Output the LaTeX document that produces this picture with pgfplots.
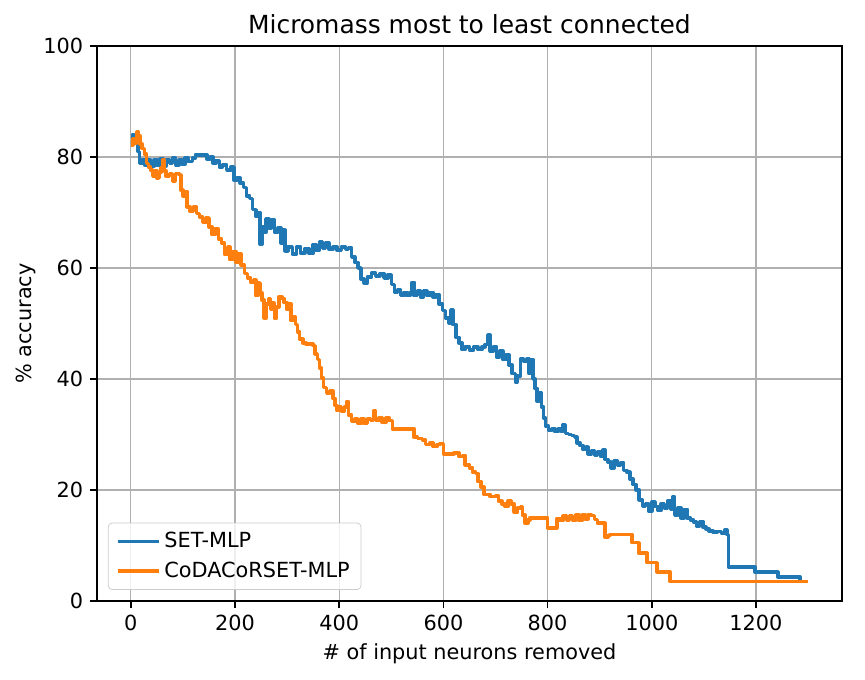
\documentclass[border=0pt]{standalone}
\usepackage{pgfplots}
\pgfplotsset{compat=1.18}
\usepackage{fontspec}
\setmainfont{DejaVu Sans}
\definecolor{tabblue}{HTML}{1F77B4}
\definecolor{taborange}{HTML}{FF7F0E}
\definecolor{gridgray}{HTML}{B0B0B0}
\definecolor{legedge}{HTML}{CCCCCC}
\begin{document}
\begin{tikzpicture}
\useasboundingbox (-51.7pt,-42.1pt) rectangle (409.6pt,320.5pt);
\begin{axis}[
  at={(0,0)}, anchor=south west,
  scale only axis, width=397.3pt, height=296pt,
  xmin=-65, xmax=1365, ymin=0, ymax=100,
  xtick={0,200,400,600,800,1000,1200},
  ytick={0,20,40,60,80,100},
  grid=major,
  major grid style={gridgray, line width=0.6pt},
  axis line style={black, line width=0.8pt},
  tick style={black, line width=0.8pt},
  tick align=outside, tick pos=left,
  major tick length=3.8pt,
  /pgf/number format/assume math mode=true,
  /pgf/number format/1000 sep={},
  ticklabel style={font=\fontsize{11.1}{13}\selectfont},
  title={Micromass most to least connected},
  title style={font=\fontsize{13.3}{15}\selectfont, yshift=-3pt},
  xlabel={\# of input neurons removed},
  ylabel={\% accuracy},
  label style={font=\fontsize{11.1}{13}\selectfont},
  ylabel style={yshift=-3pt},
  legend style={at={(0.0148,0.0199)}, anchor=south west, draw=legedge, rounded corners=2pt,
    fill=white, fill opacity=0.8, text opacity=1, font=\fontsize{11.1}{13}\selectfont,
    inner xsep=4pt, inner ysep=3pt, row sep=2pt},
  legend cell align=left,
  legend image code/.code={\draw[#1, line width=1.9pt] (0pt,0pt) -- (22pt,0pt);},
]
\addplot[tabblue, line width=1.9pt, line join=round, const plot] coordinates {
(0,83.5) (3,84) (6,82.5) (10,83) (14,81) (17,78.8) (22,79.5) (27,78.5) (32,79.5) (38,78.3) (44,79.5) (50,78.5) (56,79.6) (62,78.4) (68,79.5) (74,78.8) (80,79.8) (86,78.6) (92,79.5) (98,78.7) (104,79.8) (110,79.2) (118,79.8) (124,80.4) (140,80.4) (146,79.6) (152,80) (158,78.9) (164,79.4) (170,78.2) (176,78.6) (184,77.6) (192,78.2) (198,75.8) (204,76.2) (210,75.3) (216,74.5) (222,73) (228,72.5) (234,70.5) (240,69.3) (244,70) (248,64.3) (252,67.5) (256,66.5) (260,68.8) (265,67.2) (270,68.6) (276,66.5) (282,67.2) (288,64.5) (292,66.8) (296,63) (302,63.8) (310,62.5) (318,63.8) (326,62.7) (334,63.5) (342,62.6) (350,64.2) (356,63.2) (362,64.8) (368,63.5) (374,64.5) (380,63.4) (388,63.8) (396,63.2) (404,63.8) (412,63.3) (418,63.6) (424,62) (430,61) (436,60) (442,58) (448,57.3) (454,58.4) (462,59.1) (470,58.6) (478,59) (486,58.2) (494,58.8) (500,57) (506,55.7) (512,56) (518,55) (524,55.6) (530,55) (536,55.6) (540,57.4) (544,55) (550,55.8) (556,54.8) (562,55.8) (568,55) (574,55.6) (580,54.8) (586,55.2) (592,53.5) (598,52.3) (604,51) (610,50) (614,52.4) (618,49.8) (624,47.5) (630,46.5) (636,45.3) (642,45.8) (650,45.2) (658,45.8) (666,45.3) (674,45.8) (680,46.2) (686,47.9) (690,45) (696,45.8) (702,44) (708,45) (714,43.5) (720,44.3) (726,42.5) (732,41) (738,39.5) (742,40.5) (748,43.6) (754,43.2) (760,43.6) (764,41) (768,43.5) (772,40) (776,38.3) (780,36) (784,37.5) (788,35) (792,33) (796,31.5) (802,30.8) (808,31) (814,30.5) (820,31) (826,30.6) (830,31.8) (834,30.2) (840,30) (846,29.8) (852,29.5) (856,28.5) (862,28) (868,27.3) (874,27.8) (878,26.5) (884,27) (890,26.2) (896,26.8) (902,26) (906,27.2) (910,25.5) (916,25) (922,24) (928,25.2) (934,24.5) (940,24.9) (946,23.5) (952,23.2) (958,22) (964,21) (970,20) (976,18.2) (982,17) (988,17.5) (994,16.2) (1000,17.8) (1006,17) (1012,16.3) (1018,17.5) (1024,16.8) (1030,18) (1036,16.5) (1040,18.7) (1044,15.5) (1050,16.8) (1056,15) (1062,16.5) (1068,15) (1074,14.6) (1080,14.2) (1086,13.5) (1092,14.3) (1098,13.3) (1104,13) (1110,12.6) (1118,12.4) (1126,12.5) (1134,12.2) (1140,12.8) (1144,12) (1147,6.1) (1195,6.1) (1198,5.2) (1240,5.2) (1242,4.3) (1281,4.3) (1285,3.8)
};
\addlegendentry{SET-MLP}
\addplot[taborange, line width=1.9pt, line join=round, const plot] coordinates {
(0,82.2) (4,83.2) (8,82.5) (12,84.5) (15,83.8) (18,82.3) (22,81.5) (26,80.5) (30,78.8) (34,78.2) (38,77.6) (42,76.6) (46,77.5) (50,76.2) (54,77.2) (58,78) (62,79.5) (64,77.5) (68,76.5) (74,77) (80,75.6) (86,77) (92,76.8) (96,74) (100,73) (104,73.8) (108,71) (114,70.2) (120,71) (126,69.8) (132,69.2) (138,68.2) (144,69) (150,67.4) (156,66) (162,67) (168,65.2) (174,64.5) (180,62.5) (186,63.8) (190,61.5) (196,63) (202,61) (206,62.5) (212,60.5) (218,59) (224,58.2) (230,57.5) (236,57.8) (240,55) (244,57.3) (248,55.5) (252,54.2) (256,51) (260,53.5) (264,54.5) (268,52.5) (272,53.8) (276,51) (280,53) (284,54.8) (290,54.5) (294,53.8) (300,52.5) (304,53.5) (308,50.5) (312,51.2) (316,49.8) (320,48.5) (324,47.2) (330,46.5) (336,46.3) (344,46.3) (350,46) (354,44.5) (358,43.5) (362,42) (366,40.2) (370,38.5) (376,37.5) (382,37.8) (388,36.5) (392,35.2) (396,34.3) (400,35) (404,34.2) (410,35) (414,35.9) (418,33.5) (424,32.3) (430,32.8) (436,32) (442,32.8) (448,32) (454,32.8) (460,32.5) (466,34.2) (470,32.5) (476,33) (482,32.2) (490,33) (496,32.5) (502,31) (540,31) (544,29.5) (550,29.3) (560,29) (566,28.2) (574,28.5) (580,27.8) (588,28.2) (594,28.4) (600,26.5) (610,26.5) (620,26.7) (630,26) (638,26.2) (642,24.5) (650,24) (656,23.2) (662,23) (666,21.5) (672,20.5) (678,19.2) (690,18.8) (700,18.9) (706,18) (712,17.5) (718,17) (724,18) (730,17.5) (736,16) (742,16.8) (748,17) (752,15.5) (757,14) (762,14.6) (766,15) (795,15) (800,13.2) (814,13.2) (818,14.9) (824,14.5) (830,15.3) (836,14.5) (842,15.4) (848,14.6) (854,15.5) (860,14.5) (866,15.5) (872,14.8) (878,15.5) (884,15.4) (890,14.7) (896,14) (906,14) (910,11.5) (916,11.8) (920,12) (958,12) (962,10.5) (972,10.5) (975,8.6) (988,8.6) (991,6.9) (1006,6.9) (1010,5.2) (1033,5.2) (1035,3.5) (1300,3.5)
};
\addlegendentry{CoDACoRSET-MLP}
\end{axis}
\end{tikzpicture}
\end{document}
